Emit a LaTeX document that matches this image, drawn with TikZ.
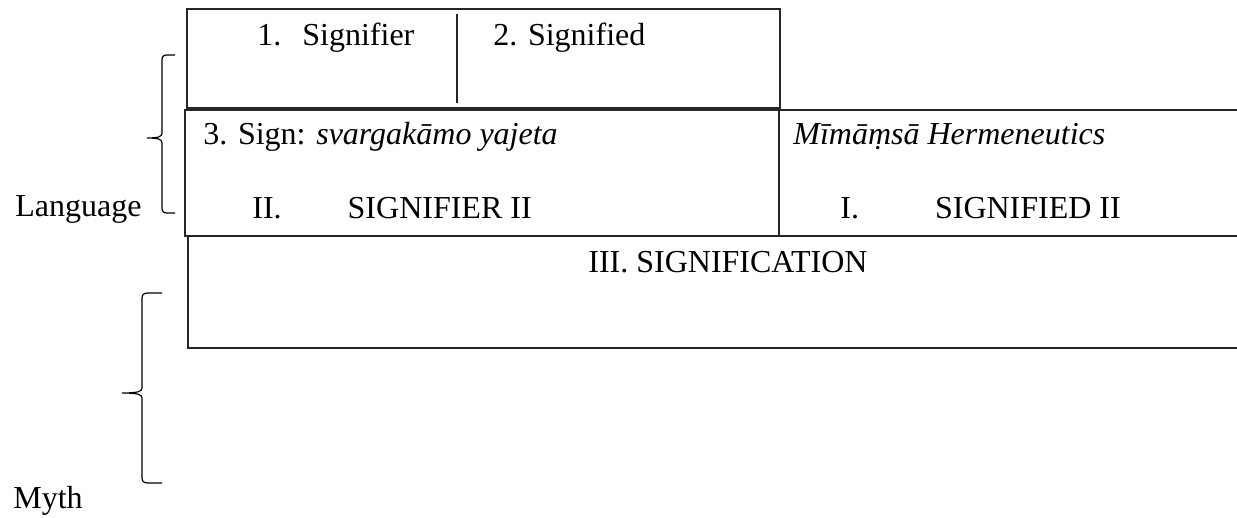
\documentclass[tikz,border=0pt]{standalone}
\usepackage{fontspec}
\setmainfont{Liberation Serif}
\begin{document}
\begin{tikzpicture}[x=0.5pt,y=-0.5pt,
  frame/.style={line width=0.8pt, draw=black!85},
  bracket/.style={line width=0.6pt, draw=black},
  label/.style={anchor=base west, inner sep=0pt, font=\fontsize{16pt}{19pt}\selectfont}]
\useasboundingbox (0,0) rectangle (1237,518);

% boxes of the two-level sign scheme
\draw[frame] (187,9) rectangle (780,108);
\draw[frame] (457,14) -- (457,103);
\draw[frame] (185,110) rectangle (779,236);
\draw[frame] (779,110) -- (1250,110) (779,236) -- (1250,236);
\draw[frame] (188,236) rectangle (1250,348);

% first level
\node[label] (sigr) at (257,46) {1.\hspace{10.5pt}Signifier};
\node[label] (sigd) at (493,46) {2. Signified};

% second level
\node[label] (sign) at (203,145) {3. Sign: \textit{svargakāmo yajeta}};
\node[label] (herm) at (793,145) {\textit{Mīmāṃsā Hermeneutics}};
\node[label] (sigrII) at (252,219) {II.\hspace{33pt}SIGNIFIER II};
\node[label] (sigdII) at (840,219) {I.\hspace{38pt}SIGNIFIED II};
\node[label] (sigtn) at (588,273) {III. SIGNIFICATION};

% side labels and braces
\node[label] (lang) at (15,217) {Language};
\node[label] (myth) at (13,508) {Myth};

\draw[bracket] (175,55) -- (167,55) .. controls (163.5,55) and (162,56.5) .. (162,60)
  -- (162,133) .. controls (162,136.5) and (159,138) .. (147,138)
  .. controls (159,138) and (162,139.5) .. (162,143)
  -- (162,208) .. controls (162,211.5) and (163.5,213) .. (167,213) -- (175,213);
\draw[bracket] (162,293) -- (148,293) .. controls (144,293) and (142,294.5) .. (142,298)
  -- (142,388) .. controls (142,391.5) and (138,393) .. (122,393)
  .. controls (138,393) and (142,394.5) .. (142,398)
  -- (142,478) .. controls (142,481.5) and (144,483) .. (148,483) -- (162,483);
\end{tikzpicture}
\end{document}
